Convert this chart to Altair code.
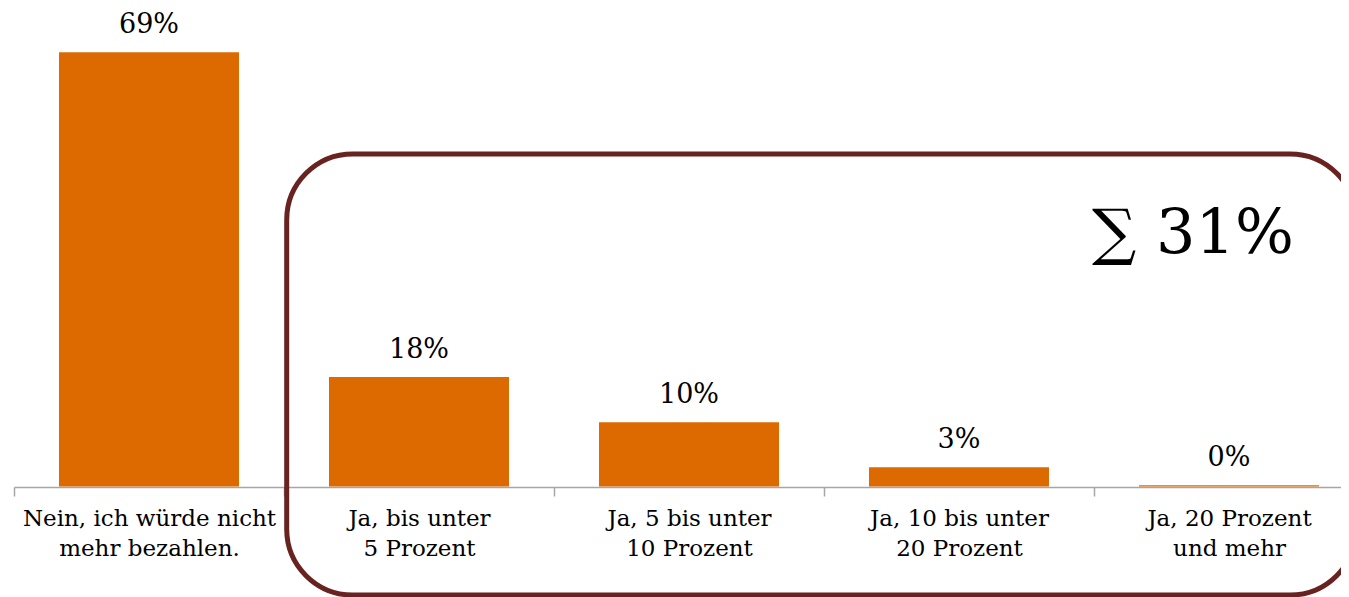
import altair as alt
import pandas as pd
import json

categories = [
    "Nein, ich würde nicht\nmehr bezahlen.",
    "Ja, bis unter\n5 Prozent",
    "Ja, 5 bis unter\n10 Prozent",
    "Ja, 10 bis unter\n20 Prozent",
    "Ja, 20 Prozent\nund mehr",
]
values = [69.0, 17.4, 10.2, 3.05, 0.2]
labels = ["69%", "18%", "10%", "3%", "0%"]
sum_label = "∑ 31%"

BAR = "#DD6A00"
FRAME = "#682321"
AXIS_GRAY = "#a6a6a6"
FONT = "DejaVu Serif"

idx = list(range(len(categories)))
df = pd.DataFrame({"i": idx, "cat": categories, "value": values, "label": labels})

# label lookup for the axis (multi-line)
label_lines = json.dumps([c.split("\n") for c in categories], ensure_ascii=False)
label_expr = f"{label_lines}[round(datum.value + 0.5)]"

W = 1327
STEP = 270
xscale = alt.Scale(domain=[-0.5, -0.5 + W / STEP], nice=False, zero=False)
yscale = alt.Scale(domain=[-17.56, 76.04], nice=False, zero=False)

xaxis = alt.Axis(
    title=None,
    values=[i - 0.5 for i in idx],
    labelExpr=label_expr,
    labelOffset=STEP / 2,
    labelFlush=False,
    labelOverlap=False,
    labelAngle=0,
    labelAlign="center",
    offset=-110,
    grid=False,
    domainColor=AXIS_GRAY,
    domainWidth=1.5,
    tickColor=AXIS_GRAY,
    tickWidth=1.5,
    tickSize=9,
    labelFont=FONT,
    labelFontSize=23,
    labelColor="black",
    labelLineHeight=30,
    labelPadding=11,
    labelLimit=0,
)

base = alt.Chart(df).transform_calculate(
    x0="datum.i - 1/3", x1="datum.i + 1/3"
)
bars = base.mark_bar(color=BAR).encode(
    x=alt.X("x0:Q", scale=xscale, axis=xaxis),
    x2="x1:Q",
    y=alt.Y("value:Q", scale=yscale, axis=None),
    y2=alt.datum(0),
)
texts = base.mark_text(
    dy=-19, baseline="alphabetic", font=FONT, fontSize=27, color="black"
).encode(
    x=alt.X("i:Q", scale=xscale),
    y=alt.Y("value:Q", scale=yscale),
    text="label:N",
)

frame = alt.Chart(alt.Data(values=[{"a": 1}])).mark_rect(
    cornerRadius=66, fill="transparent", stroke=FRAME, strokeWidth=5, clip=True
).encode(
    x=alt.value(272.7), x2=alt.value(1342), y=alt.value(146), y2=alt.value(587)
)

sum_text = alt.Chart(pd.DataFrame({"t": [sum_label]})).mark_text(
    font=FONT, fontSize=62, color="black", align="center", baseline="middle"
).encode(x=alt.value(1179), y=alt.value(226), text="t:N")

chart = (
    alt.layer(bars, texts, frame, sum_text)
    .properties(
        width=W,
        height=589,
        padding={"left": 6, "top": 0, "right": 0, "bottom": 0},
        autosize=alt.AutoSizeParams(type="none"),
        background="white",
    )
    .configure_view(stroke=None)
)

chart.save("out.html", embed_options={"renderer": "svg", "actions": False})
